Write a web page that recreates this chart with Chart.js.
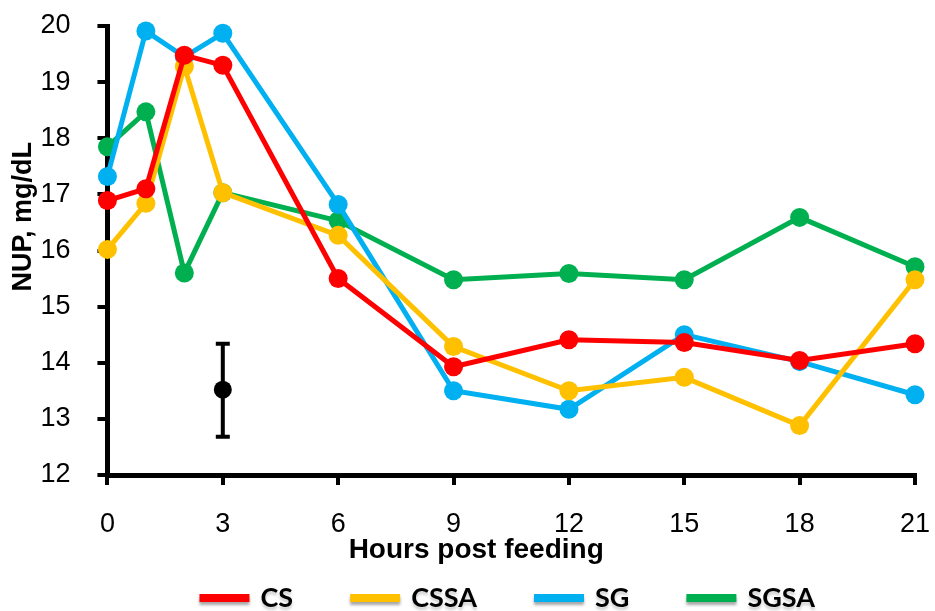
<!DOCTYPE html>
<html>
<head>
<meta charset="utf-8">
<script src="https://cdn.jsdelivr.net/npm/chart.js@4.4.1/dist/chart.umd.min.js"></script>
<style>
  html, body { margin: 0; padding: 0; background: #fff; }
  #wrap { width: 935px; height: 611px; }
</style>
</head>
<body>
<div id="wrap"><canvas id="nupChart" width="935" height="611"></canvas></div>
<script>
const hours = [0, 1, 2, 3, 6, 9, 12, 15, 18, 21];
const cs   = [16.89, 17.10, 19.48, 19.30, 15.50, 13.93, 14.41, 14.36, 14.04, 14.34];
const cssa = [16.02, 16.84, 19.28, 17.03, 16.27, 14.29, 13.50, 13.74, 12.88, 15.48];
const sg   = [17.32, 19.91, 19.45, 19.87, 16.82, 13.50, 13.17, 14.50, 14.02, 13.43];
const sgsa = [17.85, 18.47, 15.60, 17.03, 16.53, 15.48, 15.59, 15.48, 16.59, 15.71];

// pooled SEM bar drawn at hour 3
const errX = [3];
const errMid = [13.52];
const errLow = [12.68];
const errHigh = [14.34];

const xTicks = [0, 3, 6, 9, 12, 15, 18, 21];

function pts(ys) {
    return hours.map(function(h, i) { return { x: h, y: ys[i] }; });
}

function series(label, ys, color, order) {
    return {
        label: label,
        data: pts(ys),
        borderColor: color,
        backgroundColor: color,
        borderWidth: 5,
        pointRadius: 9.5,
        pointHoverRadius: 9.5,
        pointBorderWidth: 0,
        showLine: true,
        clip: false,
        order: order
    };
}

const errorBarPlugin = {
    id: 'errorBar',
    afterDatasetsDraw: function(chart) {
        const ctx = chart.ctx;
        const xs = chart.scales.x;
        const ys = chart.scales.y;
        ctx.save();
        ctx.strokeStyle = '#000';
        ctx.lineWidth = 4;
        for (let i = 0; i < errX.length; i++) {
            const px = xs.getPixelForValue(errX[i]);
            const top = ys.getPixelForValue(errHigh[i]);
            const bot = ys.getPixelForValue(errLow[i]);
            ctx.beginPath();
            ctx.moveTo(px, top);
            ctx.lineTo(px, bot);
            ctx.moveTo(px - 7, top);
            ctx.lineTo(px + 7, top);
            ctx.moveTo(px - 7, bot);
            ctx.lineTo(px + 7, bot);
            ctx.stroke();
        }
        ctx.restore();
    }
};

// legend drawn by hand so the row can sit close under the axis title
const bottomLegend = {
    id: 'bottomLegend',
    afterDraw: function(chart) {
        const ctx = chart.ctx;
        const sets = chart.data.datasets.filter(function(d) { return d.label !== 'SEM'; });
        const swatch = 50, gapText = 11, gapItem = 57;
        ctx.save();
        ctx.font = 'bold 27px Lato';
        ctx.textBaseline = 'middle';
        let total = 0;
        sets.forEach(function(d, i) {
            total += swatch + gapText + ctx.measureText(d.label).width;
            if (i < sets.length - 1) total += gapItem;
        });
        const area = chart.chartArea;
        let x = (area.left + area.right) / 2 - total / 2 - 4;
        const y = chart.height - 13;
        sets.forEach(function(d) {
            ctx.shadowColor = 'rgba(0,0,0,0.35)';
            ctx.shadowBlur = 3;
            ctx.shadowOffsetY = 3;
            ctx.fillStyle = d.borderColor;
            ctx.fillRect(x, y - 4, swatch, 8);
            ctx.shadowColor = 'rgba(0,0,0,0.2)';
            ctx.fillStyle = '#000';
            ctx.fillText(d.label, x + swatch + gapText, y);
            x += swatch + gapText + ctx.measureText(d.label).width + gapItem;
        });
        ctx.restore();
    }
};

const ctx = document.getElementById('nupChart').getContext('2d');
const chart = new Chart(ctx, {
    type: 'scatter',
    data: {
        datasets: [
            series('CS', cs, '#FF0000', 1),
            series('CSSA', cssa, '#FFC000', 2),
            series('SG', sg, '#00B0F0', 3),
            series('SGSA', sgsa, '#00B050', 4),
            {
                label: 'SEM',
                data: errX.map(function(x, i) { return { x: x, y: errMid[i] }; }),
                backgroundColor: '#000',
                borderColor: '#000',
                pointRadius: 9,
                pointBorderWidth: 0,
                showLine: false,
                clip: false,
                order: 0
            }
        ]
    },
    options: {
        responsive: false,
        animation: false,
        layout: {
            autoPadding: false,
            padding: { top: 26, right: 20, bottom: 47, left: 0 }
        },
        plugins: {
            tooltip: { enabled: false },
            legend: { display: false }
        },
        scales: {
            x: {
                type: 'linear',
                min: 0,
                max: 21,
                afterBuildTicks: function(axis) {
                    axis.ticks = xTicks.map(function(v) { return { value: v }; });
                },
                afterFit: function(axis) {
                    axis.paddingLeft = 0;
                    axis.paddingRight = 0;
                },
                grid: { drawOnChartArea: false, drawTicks: true, tickLength: 10, color: '#000', lineWidth: 4 },
                border: { color: '#000', width: 5 },
                ticks: {
                    color: '#000',
                    padding: 26,
                    maxRotation: 0,
                    font: { family: 'Liberation Sans', size: 27, lineHeight: 1 }
                },
                title: {
                    display: true,
                    // trailing spaces pull the centred title left, as in the original
                    text: 'Hours post feeding         ',
                    color: '#000',
                    font: { family: 'Liberation Sans', weight: 'bold', size: 28, lineHeight: 1 },
                    padding: { top: -28, bottom: 0 }
                }
            },
            y: {
                min: 12,
                max: 20,
                afterFit: function(axis) {
                    axis.paddingTop = 0;
                    axis.paddingBottom = 0;
                },
                ticks: {
                    stepSize: 1,
                    color: '#000',
                    padding: 27,
                    font: { family: 'Liberation Sans', size: 27 }
                },
                grid: { drawOnChartArea: false, drawTicks: true, tickLength: 10, color: '#000', lineWidth: 4 },
                border: { color: '#000', width: 5 },
                title: {
                    display: true,
                    // leading spaces lift the rotated title, as in the original
                    text: '         NUP, mg/dL',
                    color: '#000',
                    font: { family: 'Liberation Sans', weight: 'bold', size: 27 },
                    padding: { top: 7, bottom: -26 }
                }
            }
        }
    },
    plugins: [errorBarPlugin, bottomLegend]
});
</script>
</body>
</html>
